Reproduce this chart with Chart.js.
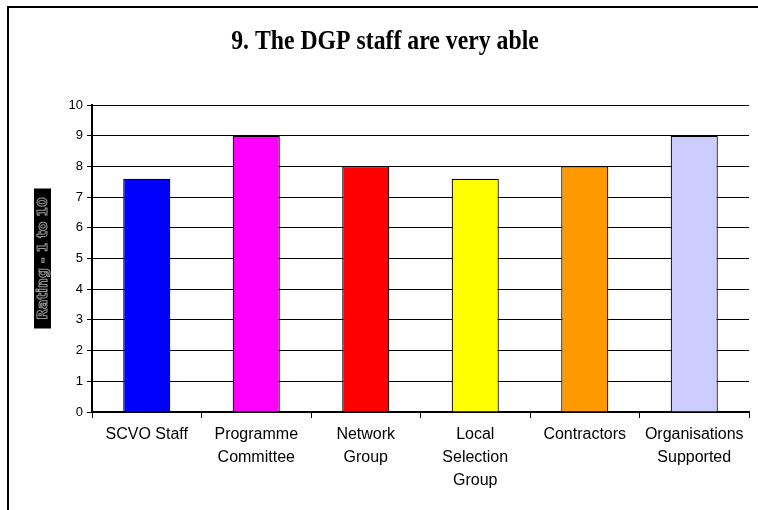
<!DOCTYPE html>
<html>
<head>
<meta charset="utf-8">
<title>9. The DGP staff are very able</title>
<script src="https://cdn.jsdelivr.net/npm/chart.js@4/dist/chart.umd.min.js"></script>
<style>
  html, body { margin: 0; padding: 0; background: #fff; overflow: hidden; }
  #wrap { position: relative; width: 758px; height: 510px; }
</style>
</head>
<body>
<div id="wrap"><canvas id="chart"></canvas></div>
<script>
// Survey scores per respondent group
const groups = [
  'SCVO Staff',
  ['Programme', 'Committee'],
  ['Network', 'Group'],
  ['Local', 'Selection', 'Group'],
  'Contractors',
  ['Organisations', 'Supported']
];
const ratings = [7.6, 9, 8, 7.6, 8, 9];
const barColours = ['#0000FF', '#FF00FF', '#FF0000', '#FFFF00', '#FF9900', '#CCCCFF'];

const TITLE = '9. The DGP staff are very able';
const Y_LABEL = 'Rating - 1 to 10';
const SANS = '"Liberation Sans", Arial, sans-serif';

// frame, title and the boxed y-axis caption
const decorations = {
  id: 'decorations',
  beforeDraw(chart) {
    const ctx = chart.ctx;
    ctx.save();
    ctx.fillStyle = '#fff';
    ctx.fillRect(0, 0, chart.width, chart.height);
    ctx.strokeStyle = '#000';
    ctx.lineWidth = 2;
    ctx.strokeRect(8, 7, chart.width + 20, chart.height + 20);
    ctx.restore();
  },
  afterDraw(chart) {
    const ctx = chart.ctx;
    const area = chart.chartArea;
    ctx.save();
    // narrow bold serif title
    ctx.translate(385, 48.5);
    ctx.scale(0.88, 1);
    ctx.fillStyle = '#000';
    ctx.font = 'bold 27px "Liberation Serif", "Times New Roman", serif';
    ctx.textAlign = 'center';
    ctx.textBaseline = 'alphabetic';
    ctx.fillText(TITLE, 0, 0);
    ctx.restore();

    // rotated caption on a black box
    ctx.save();
    const cy = (area.top + area.bottom) / 2;
    ctx.translate(42.5, cy);
    ctx.rotate(-Math.PI / 2);
    ctx.fillStyle = '#000';
    ctx.fillRect(-70, -8.5, 140, 17);
    ctx.font = 'bold 14px "DejaVu Sans", sans-serif';
    ctx.textAlign = 'center';
    ctx.textBaseline = 'middle';
    ctx.strokeStyle = '#9a9a9a';
    ctx.lineWidth = 1;
    ctx.strokeText(Y_LABEL, 0, 1, 134);
    ctx.restore();
  }
};

new Chart(document.getElementById('chart'), {
  type: 'bar',
  data: {
    labels: groups,
    datasets: [{
      data: ratings,
      backgroundColor: barColours,
      borderColor: '#000',
      borderWidth: 1.2,
      categoryPercentage: 1,
      barPercentage: 0.43
    }]
  },
  options: {
    responsive: true,
    maintainAspectRatio: false,
    animation: false,
    layout: { padding: { left: 0, top: 105, right: 9, bottom: 0 } },
    plugins: {
      legend: { display: false },
      title: { display: false },
      tooltip: { enabled: false }
    },
    scales: {
      x: {
        afterFit(scale) { scale.height = 98; },
        border: { color: '#000', width: 2 },
        grid: { offset: true, drawOnChartArea: false, color: '#000', tickLength: 6, lineWidth: 1 },
        ticks: {
          color: '#000',
          padding: 5,
          maxRotation: 0,
          autoSkip: false,
          font: { family: SANS, size: 16, lineHeight: 1.44 }
        }
      },
      y: {
        min: 0,
        max: 10,
        afterFit(scale) { scale.width = 92; },
        border: { color: '#000', width: 2 },
        grid: { color: '#000', lineWidth: 1, tickLength: 5 },
        ticks: {
          stepSize: 1,
          color: '#000',
          padding: 4,
          font: { family: SANS, size: 13 }
        }
      }
    }
  },
  plugins: [decorations]
});
</script>
</body>
</html>
